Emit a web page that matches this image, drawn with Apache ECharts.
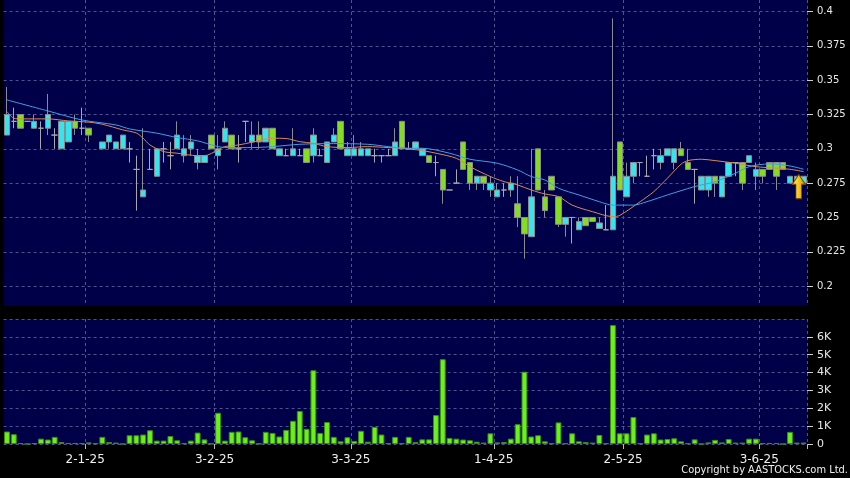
<!DOCTYPE html>
<html><head><meta charset="utf-8">
<script src="https://cdn.jsdelivr.net/npm/echarts@6/dist/echarts.min.js"></script>
<style>html,body{margin:0;padding:0;background:#000;}#c{width:850px;height:478px;}</style>
</head><body><div id="c"></div>
<script>
// trading days per month
const decDays = [12,13,16,17,18,19,20,23,24,27,30,31];
const janDays = [2,3,6,7,8,9,10,13,14,15,16,17,20,21,22,23,24,27,28];
const febDays = [3,4,5,6,7,10,11,12,13,14,17,18,19,20,21,24,25,26,27,28];
const marDays = [3,4,5,6,7,10,11,12,13,14,17,18,19,20,21,24,25,26,27,28,31];
const aprDays = [1,2,3,7,8,9,10,11,14,15,16,17,22,23,24,25,28,29,30];
const mayDays = [2,6,7,8,9,12,13,14,15,16,19,20,21,22,23,26,27,28,29,30];
const junDays = [3,4,5,6,9,10,11];
const categories = [].concat(
  decDays.map(d => d + '-12-24'), janDays.map(d => d + '-1-25'), febDays.map(d => d + '-2-25'),
  marDays.map(d => d + '-3-25'), aprDays.map(d => d + '-4-25'), mayDays.map(d => d + '-5-25'),
  junDays.map(d => d + '-6-25'));
const tickDates = ['2-1-25','3-2-25','3-3-25','1-4-25','2-5-25','3-6-25'];
const priceTicks = [0.2,0.225,0.25,0.275,0.3,0.325,0.35,0.375,0.4];

const opens  = [0.31,0.32,0.325,0.32,0.315,0.315,0.315,0.31,0.30,0.305,0.32,0.315,0.315,'-',0.30,0.305,0.30,0.30,0.30,0.285,
  0.265,0.285,0.28,0.30,0.295,0.30,0.295,0.30,0.29,0.29,0.31,0.295,0.305,0.31,0.30,0.32,0.305,0.31,0.305,0.315,
  0.295,0.295,0.295,0.295,0.30,0.295,0.295,0.29,0.305,0.32,0.295,0.295,0.295,0.295,0.295,0.295,0.295,0.295,0.32,0.30,
  0.30,0.295,0.295,0.29,0.285,0.27,0.275,0.305,0.29,0.275,0.28,0.27,0.265,0.27,0.27,0.26,0.25,0.236,0.30,0.265,
  0.28,0.265,0.245,0.25,0.241,0.25,0.25,0.242,0.241,0.241,0.305,0.265,0.28,0.29,0.28,0.295,0.29,0.295,0.29,0.30,
  0.29,0.285,0.27,0.27,0.28,0.265,0.28,0.29,0.29,0.29,0.28,0.285,0.29,0.29,0.29,0.275,0.275,0.275];
const closes = [0.325,0.32,0.315,0.32,0.32,0.315,0.325,0.31,0.32,0.32,0.315,0.315,0.31,'-',0.305,0.31,0.305,0.31,0.30,0.285,
  0.27,0.285,0.30,0.30,0.295,0.31,0.30,0.305,0.295,0.295,0.30,0.30,0.315,0.30,0.30,0.32,0.31,0.305,0.315,0.30,
  0.30,0.295,0.30,0.295,0.29,0.31,0.295,0.305,0.31,0.30,0.30,0.30,0.30,0.30,0.295,0.295,0.295,0.305,0.30,0.30,
  0.305,0.30,0.29,0.29,0.27,0.27,0.275,0.285,0.275,0.28,0.275,0.275,0.27,0.27,0.275,0.25,0.238,0.265,0.27,0.255,
  0.27,0.245,0.25,0.25,0.247,0.244,0.247,0.246,0.241,0.28,0.27,0.28,0.29,0.29,0.28,0.295,0.295,0.30,0.30,0.295,
  0.285,0.285,0.28,0.28,0.275,0.28,0.29,0.29,0.275,0.295,0.285,0.28,0.285,0.28,0.285,0.28,0.28,0.28];
const lows   = [0.31,0.315,0.315,0.32,0.315,0.30,0.31,0.30,0.30,0.305,0.31,0.31,0.305,'-',0.30,0.30,0.30,0.30,0.29,0.255,
  0.265,0.285,0.28,0.29,0.285,0.30,0.29,0.295,0.285,0.29,0.30,0.285,0.305,0.30,0.29,0.305,0.30,0.30,0.305,0.30,
  0.295,0.295,0.295,0.295,0.29,0.29,0.295,0.29,0.305,0.30,0.295,0.295,0.295,0.295,0.29,0.29,0.295,0.295,0.30,0.30,
  0.30,0.295,0.29,0.28,0.26,0.27,0.275,0.285,0.27,0.27,0.27,0.265,0.265,0.265,0.265,0.243,0.22,0.236,0.27,0.25,
  0.27,0.243,0.236,0.231,0.241,0.244,0.247,0.242,0.241,0.241,0.27,0.265,0.275,0.28,0.28,0.285,0.285,0.295,0.285,0.295,
  0.285,0.26,0.27,0.265,0.265,0.265,0.28,0.28,0.27,0.29,0.27,0.275,0.285,0.27,0.285,0.275,0.275,0.275];
const highs  = [0.345,0.33,0.325,0.32,0.325,0.32,0.34,0.315,0.32,0.32,0.325,0.33,0.315,'-',0.305,0.31,0.305,0.31,0.305,0.295,
  0.315,0.30,0.30,0.305,0.305,0.32,0.31,0.31,0.30,0.295,0.31,0.31,0.32,0.31,0.31,0.32,0.32,0.32,0.315,0.315,
  0.30,0.30,0.315,0.30,0.30,0.315,0.30,0.305,0.315,0.32,0.305,0.31,0.305,0.30,0.30,0.295,0.30,0.315,0.32,0.305,
  0.305,0.30,0.295,0.295,0.285,0.27,0.285,0.305,0.29,0.28,0.28,0.28,0.275,0.275,0.28,0.28,0.25,0.30,0.30,0.27,
  0.28,0.265,0.25,0.25,0.25,0.25,0.25,0.25,0.259,0.395,0.305,0.29,0.29,0.29,0.295,0.30,0.30,0.30,0.30,0.305,
  0.30,0.285,0.28,0.28,0.28,0.28,0.29,0.29,0.29,0.295,0.29,0.285,0.29,0.29,0.29,0.28,0.28,0.28];
const volumes = [700,550,50,0,50,300,250,400,110,60,60,50,90,40,400,110,80,0,490,490,
  530,770,190,190,450,210,40,190,640,260,20,1750,190,680,700,380,210,20,680,620,
  420,790,1300,1850,850,4130,620,1230,400,150,380,170,740,130,960,530,40,400,40,400,
  110,260,260,1620,4750,340,300,250,210,130,80,600,90,110,300,1110,4050,420,490,150,
  40,1210,40,600,150,110,80,510,40,6660,600,600,1510,40,530,600,250,280,320,150,
  40,260,0,90,230,90,280,80,80,300,300,40,60,60,0,680,80,80];
// moving-average lines: [category index, price]
const maShort = [[0,0.3271],[1,0.3223],[2,0.3218],[6,0.3218],[9,0.3203],[12,0.3194],[14,0.3179],[17,0.3138],[19,0.3115],[20,0.3077],
  [21,0.3028],[23,0.298],[25,0.2968],[28,0.295],[29,0.295],[31,0.2992],[32,0.3016],[34,0.3028],[36,0.3048],[39,0.3077],
  [41,0.3075],[43,0.3052],[45,0.304],[47,0.3016],[50,0.3009],[53,0.3016],[56,0.3009],[58,0.3004],[61,0.2987],[63,0.2968],
  [66,0.2931],[68,0.287],[71,0.2798],[73,0.2761],[75,0.2737],[77,0.27],[79,0.2671],[81,0.2652],[83,0.259],[86,0.2542],
  [89,0.2506],[90,0.2515],[93,0.2615],[95,0.2688],[97,0.2786],[99,0.2888],[100,0.2914],[102,0.2924],[104,0.2914],[107,0.2895],
  [110,0.287],[113,0.2859],[115,0.2851],[117,0.2834]];
const maLong = [[0,0.3356],[6,0.3276],[11,0.321],[16,0.3174],[18,0.3145],[22,0.3114],[25,0.3082],[28,0.3058],[31,0.3016],[33,0.3009],
  [36,0.3009],[39,0.3016],[43,0.3033],[48,0.3038],[53,0.3033],[56,0.3016],[59,0.3004],[61,0.3004],[65,0.2968],[68,0.2924],
  [72,0.2895],[75,0.2846],[77,0.2798],[79,0.2773],[81,0.2713],[84,0.2664],[87,0.2615],[89,0.259],[92,0.259],[94,0.2615],
  [97,0.2664],[99,0.2695],[101,0.2725],[104,0.2761],[107,0.2822],[109,0.287],[112,0.289],[115,0.2875],[117,0.2851]];
const arrowIndex = 116, arrowPrice = 0.2725;

const candleData = opens.map((o, i) => [o, closes[i], lows[i], highs[i]]);
const isTick = (idx, val) => tickDates.indexOf(val) >= 0;
const gridLine = {color: '#4a5590', width: 1, type: [3, 3]};
const chart = echarts.init(document.getElementById('c'));
chart.setOption({
  animation: false,
  backgroundColor: '#000',
  grid: [
    {left: 3.6, right: 43, top: 0, height: 306, show: true, backgroundColor: '#000048', borderWidth: 0},
    {left: 3.6, right: 43, top: 319, height: 125, show: true, backgroundColor: '#000048', borderWidth: 0}
  ],
  xAxis: [
    {type: 'category', gridIndex: 0, data: categories, boundaryGap: true,
     axisLine: {show: false}, axisTick: {show: false}, axisLabel: {show: false},
     splitLine: {show: true, interval: isTick, lineStyle: gridLine}},
    {type: 'category', gridIndex: 1, data: categories, boundaryGap: true,
     axisLine: {show: false},
     axisTick: {show: true, interval: isTick, length: 5, lineStyle: {color: '#bbb'}},
     axisLabel: {show: true, interval: isTick, color: '#f0f0f0', fontSize: 12, margin: 10,
                 fontFamily: 'DejaVu Sans', padding: [0, 7, 0, 0]},
     splitLine: {show: true, interval: isTick, lineStyle: gridLine}}
  ],
  yAxis: [
    {type: 'value', gridIndex: 0, position: 'right', min: 0.1855, max: 0.4084,
     axisLine: {show: false},
     axisTick: {show: true, customValues: priceTicks, length: 6, lineStyle: {color: '#ccc'}},
     axisLabel: {customValues: priceTicks, color: '#e8e8e8', fontSize: 10, margin: 10, fontFamily: 'DejaVu Sans',
                 formatter: v => String(+(+v).toFixed(3))},
     splitLine: {show: true, lineStyle: gridLine}},
    {type: 'value', gridIndex: 1, position: 'right', min: 0, max: 7000, interval: 1000,
     axisLine: {show: false},
     axisTick: {show: true, length: 6, lineStyle: {color: '#ccc'}},
     axisLabel: {color: '#e8e8e8', fontSize: 11, margin: 10, fontFamily: 'DejaVu Sans', showMaxLabel: false,
                 formatter: v => v === 0 ? '0' : (v / 1000) + 'K'},
     splitLine: {show: true, lineStyle: gridLine}}
  ],
  series: [
    {type: 'candlestick', xAxisIndex: 0, yAxisIndex: 0, data: candleData, barWidth: '88%',
     itemStyle: {color: '#33e5ef', color0: '#84dd22', borderColor: '#8c8c8c', borderColor0: '#8c8c8c',
                 borderColorDoji: '#a8a8a8', borderWidth: 1},
     markPoint: {silent: true, label: {show: false},
       data: [{coord: [categories[arrowIndex], arrowPrice],
               symbol: 'path://M6,0 L12,9 L8.6,9 L8.6,22 L3.4,22 L3.4,9 L0,9 Z',
               symbolSize: [13, 24], symbolOffset: [2, 0],
               itemStyle: {color: new echarts.graphic.LinearGradient(0, 0, 1, 0,
                 [{offset: 0, color: '#fff48a'}, {offset: 0.5, color: '#f5c518'}, {offset: 1, color: '#c98a00'}]),
                 borderColor: '#7a4a00', borderWidth: 1}}]}},
    {type: 'line', xAxisIndex: 0, yAxisIndex: 0, data: maShort, showSymbol: false, smooth: 0.3,
     lineStyle: {color: '#d98a52', width: 1}, silent: true},
    {type: 'line', xAxisIndex: 0, yAxisIndex: 0, data: maLong, showSymbol: false, smooth: 0.3,
     lineStyle: {color: '#3d9fe6', width: 1}, silent: true},
    {type: 'bar', xAxisIndex: 1, yAxisIndex: 1, data: volumes, barWidth: '86%',
     itemStyle: {color: '#6cf01a', borderColor: '#3c8c14', borderWidth: 1}}
  ],
  graphic: [{type: 'text', right: 2, bottom: 2,
    style: {text: 'Copyright by AASTOCKS.com Ltd.', fill: '#f0f0f0',
            font: '11px "DejaVu Sans Condensed", "Liberation Sans Narrow", "DejaVu Sans", sans-serif'}}]
});
</script></body></html>
